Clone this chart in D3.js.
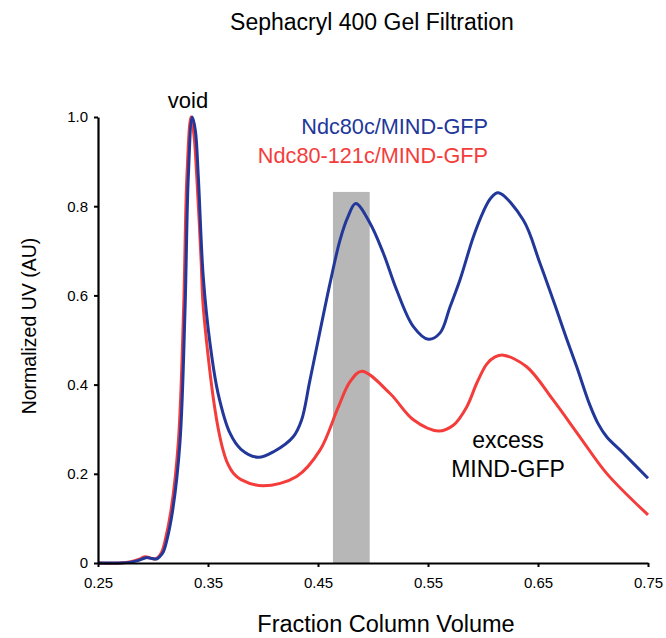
<!DOCTYPE html>
<html>
<head>
<meta charset="utf-8">
<script src="https://cdn.jsdelivr.net/npm/d3@7"></script>
<style>
  body { margin: 0; background: #fff; }
  svg { display: block; font-family: "Liberation Sans", Arial, sans-serif; }
</style>
</head>
<body>
<svg id="chart" width="666" height="638"></svg>
<script>
// ---- data ----
const xTicks = [0.25, 0.35, 0.45, 0.55, 0.65, 0.75];
const yTicks = [0, 0.2, 0.4, 0.6, 0.8, 1.0];
const yTickLabels = ["0", "0.2", "0.4", "0.6", "0.8", "1.0"];
const seriesNames = ["Ndc80c/MIND-GFP", "Ndc80-121c/MIND-GFP"];
const shadedBand = [0.4636, 0.497];
const shadedTop = 0.832;

const blueX = [0.25,0.27,0.28,0.287,0.2936,0.299,0.3033,0.3064,0.3094,0.3125,0.318,0.3245,0.3291,0.3321,0.3357,0.3385,0.3412,0.3457,0.3518,0.3591,0.37,0.38,0.3957,0.41,0.4275,0.435,0.4427,0.4609,0.47,0.477,0.4843,0.4973,0.5095,0.5215,0.5367,0.5503,0.561,0.57,0.5791,0.5912,0.6003,0.607,0.6139,0.6366,0.6518,0.667,0.676,0.6852,0.697,0.7045,0.7124,0.7276,0.75];
const blueY = [0,0,0.002,0.006,0.012,0.010,0.009,0.015,0.025,0.05,0.12,0.27,0.567,0.866,1.0,0.97,0.866,0.641,0.493,0.381,0.291,0.255,0.237,0.25,0.283,0.32,0.41,0.627,0.724,0.775,0.806,0.762,0.694,0.612,0.53,0.5016,0.516,0.574,0.635,0.731,0.788,0.818,0.830,0.769,0.672,0.567,0.503,0.44,0.355,0.313,0.283,0.246,0.19];

const redX = [0.25,0.27,0.28,0.287,0.2925,0.298,0.302,0.305,0.308,0.311,0.3165,0.323,0.3278,0.3308,0.3345,0.3372,0.3398,0.3437,0.3455,0.3503,0.3548,0.3594,0.3635,0.367,0.3735,0.38,0.4003,0.4306,0.4518,0.4685,0.479,0.4897,0.5155,0.5367,0.5594,0.573,0.5852,0.5943,0.6034,0.611,0.6185,0.6397,0.6639,0.688,0.7124,0.75];
const redY = [0,0,0.003,0.008,0.014,0.011,0.009,0.014,0.025,0.05,0.12,0.27,0.567,0.866,1.0,0.96,0.866,0.68,0.58,0.46,0.37,0.30,0.255,0.228,0.2,0.187,0.173,0.194,0.253,0.35,0.406,0.43,0.38,0.321,0.296,0.309,0.35,0.403,0.446,0.462,0.466,0.44,0.365,0.283,0.201,0.108];

// ---- layout ----
const W = 666, H = 638;
const m = { left: 98, right: 18, top: 117, bottom: 75 };
const svg = d3.select("#chart");

const x = d3.scaleLinear().domain([0.25, 0.75]).range([m.left, W - m.right]);
const y = d3.scaleLinear().domain([0, 1]).range([H - m.bottom, m.top]);

// shaded band
svg.append("rect")
  .attr("x", x(shadedBand[0]))
  .attr("y", y(shadedTop))
  .attr("width", x(shadedBand[1]) - x(shadedBand[0]))
  .attr("height", y(0) - y(shadedTop))
  .attr("fill", "#b7b7b7");

const line = d3.line()
  .x(d => x(d[0])).y(d => y(Math.max(0, d[1])))
  .curve(d3.curveCatmullRom.alpha(0.5));

const red = redX.map((v, i) => [v, redY[i]]);
const blue = blueX.map((v, i) => [v, blueY[i]]);

svg.append("path").datum(red)
  .attr("d", line).attr("fill", "none")
  .attr("stroke", "#f43d3b").attr("stroke-width", 3);
svg.append("path").datum(blue)
  .attr("d", line).attr("fill", "none")
  .attr("stroke", "#22379a").attr("stroke-width", 3);

// axes
const xAxis = d3.axisBottom(x).tickValues(xTicks)
  .tickFormat(d3.format(".2f")).tickSize(4).tickSizeOuter(0);
const gx = svg.append("g").attr("transform", `translate(0,${y(0)})`).call(xAxis);
gx.select(".domain").attr("stroke", "#000").attr("stroke-width", 2.2);
gx.selectAll(".tick line").attr("stroke", "#000").attr("stroke-width", 2);
gx.selectAll(".tick text").attr("font-size", 15).attr("fill", "#000")
  .attr("font-family", "Liberation Sans, Arial, sans-serif").attr("dy", "1.2em");

const yAxis = d3.axisLeft(y).tickValues(yTicks)
  .tickFormat((d, i) => yTickLabels[i]).tickSize(4).tickSizeOuter(0);
const gy = svg.append("g").attr("transform", `translate(${x(0.25)},0)`).call(yAxis);
gy.select(".domain").attr("stroke", "#000").attr("stroke-width", 2.2);
gy.selectAll(".tick line").attr("stroke", "#000").attr("stroke-width", 2);
gy.selectAll(".tick text").attr("font-size", 15).attr("fill", "#000")
  .attr("font-family", "Liberation Sans, Arial, sans-serif").attr("x", -10);

// texts
svg.append("text").attr("x", 372).attr("y", 30).attr("text-anchor", "middle")
  .attr("font-size", 23).attr("fill", "#000").text("Sephacryl 400 Gel Filtration");
svg.append("text").attr("x", 386).attr("y", 632).attr("text-anchor", "middle")
  .attr("font-size", 23.5).attr("fill", "#000").text("Fraction Column Volume");
svg.append("text").attr("transform", "translate(36,326) rotate(-90)")
  .attr("text-anchor", "middle").attr("font-size", 19.5).attr("fill", "#000")
  .text("Normalized UV (AU)");
svg.append("text").attr("x", 188).attr("y", 108).attr("text-anchor", "middle")
  .attr("font-size", 22).attr("fill", "#000").text("void");

svg.append("text").attr("x", 488).attr("y", 134).attr("text-anchor", "end")
  .attr("font-size", 21.7).attr("fill", "#22379a").text(seriesNames[0]);
svg.append("text").attr("x", 488).attr("y", 163).attr("text-anchor", "end")
  .attr("font-size", 21.7).attr("fill", "#f43d3b").text(seriesNames[1]);

svg.append("text").attr("x", 508).attr("y", 448).attr("text-anchor", "middle")
  .attr("font-size", 23).attr("fill", "#000").text("excess");
svg.append("text").attr("x", 508).attr("y", 477).attr("text-anchor", "middle")
  .attr("font-size", 23).attr("fill", "#000").text("MIND-GFP");
</script>
</body>
</html>
